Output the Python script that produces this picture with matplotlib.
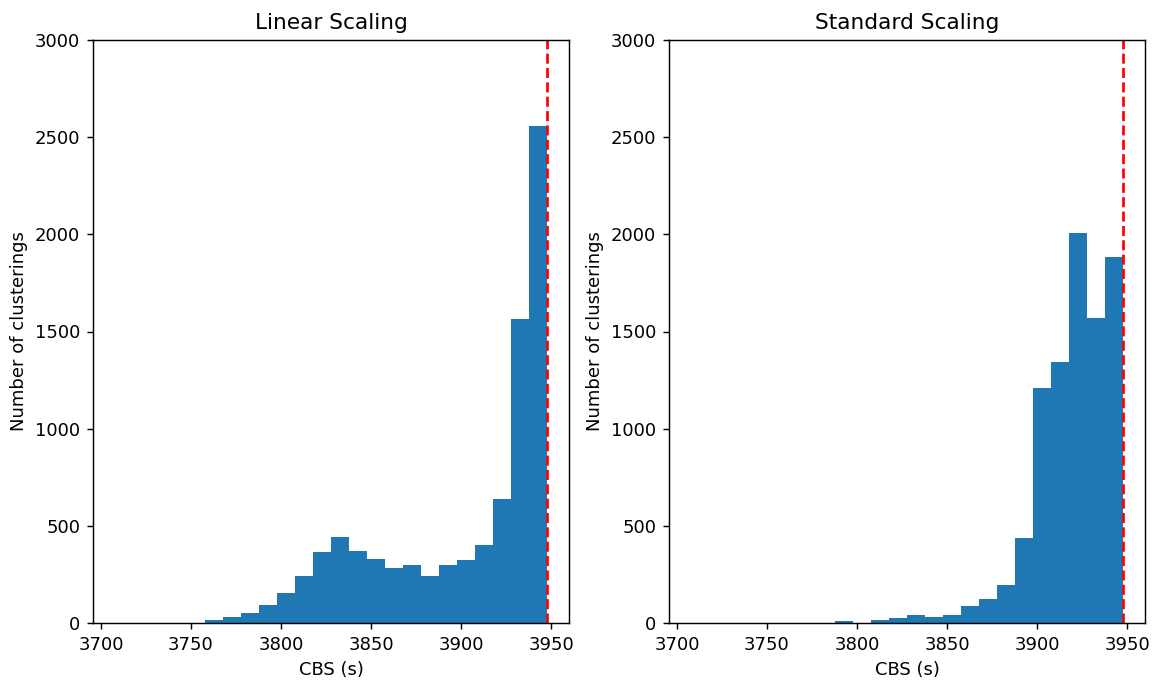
import numpy as np
import matplotlib
matplotlib.use("Agg")
import matplotlib.pyplot as plt

# Shared bin edges (24 bins between the overall min and max CBS)
cbs_min = 3707.6
cbs_max = 3947.9
n_bins = 24

linear_counts = [0, 0, 0, 0, 0, 13, 30, 49, 95, 152, 244, 363, 440, 368, 327, 281,
                 296, 244, 296, 322, 399, 636, 1562, 2555]
standard_counts = [0, 0, 0, 0, 0, 0, 0, 0, 8, 0, 13, 28, 39, 33, 39, 90,
                   121, 198, 435, 1207, 1341, 2005, 1572, 1881]

titles = ["Linear Scaling", "Standard Scaling"]
xticks = [3700, 3750, 3800, 3850, 3900, 3950]
yticks = [0, 500, 1000, 1500, 2000, 2500, 3000]

edges = np.linspace(cbs_min, cbs_max, n_bins + 1)
centers = (edges[:-1] + edges[1:]) / 2

DPI = 130
fig = plt.figure(figsize=(1155 / DPI, 681 / DPI), dpi=DPI)
ax_left = fig.add_axes([93 / 1155, 58 / 681, 476 / 1155, 583 / 681])
ax_right = fig.add_axes([669 / 1155, 58 / 681, 476 / 1155, 583 / 681])

for ax, counts, title in zip([ax_left, ax_right], [linear_counts, standard_counts], titles):
    ax.hist(centers, bins=edges, weights=counts, color="#1f77b4")
    ax.axvline(cbs_max, color="red", linestyle="--", linewidth=1.5)
    ax.set_ylim(0, 3000)
    ax.set_xticks(xticks)
    ax.set_yticks(yticks)
    ax.set_title(title)
    ax.set_xlabel("CBS (s)")
    ax.set_ylabel("Number of clusterings")

fig.savefig("out.png", dpi=DPI)
